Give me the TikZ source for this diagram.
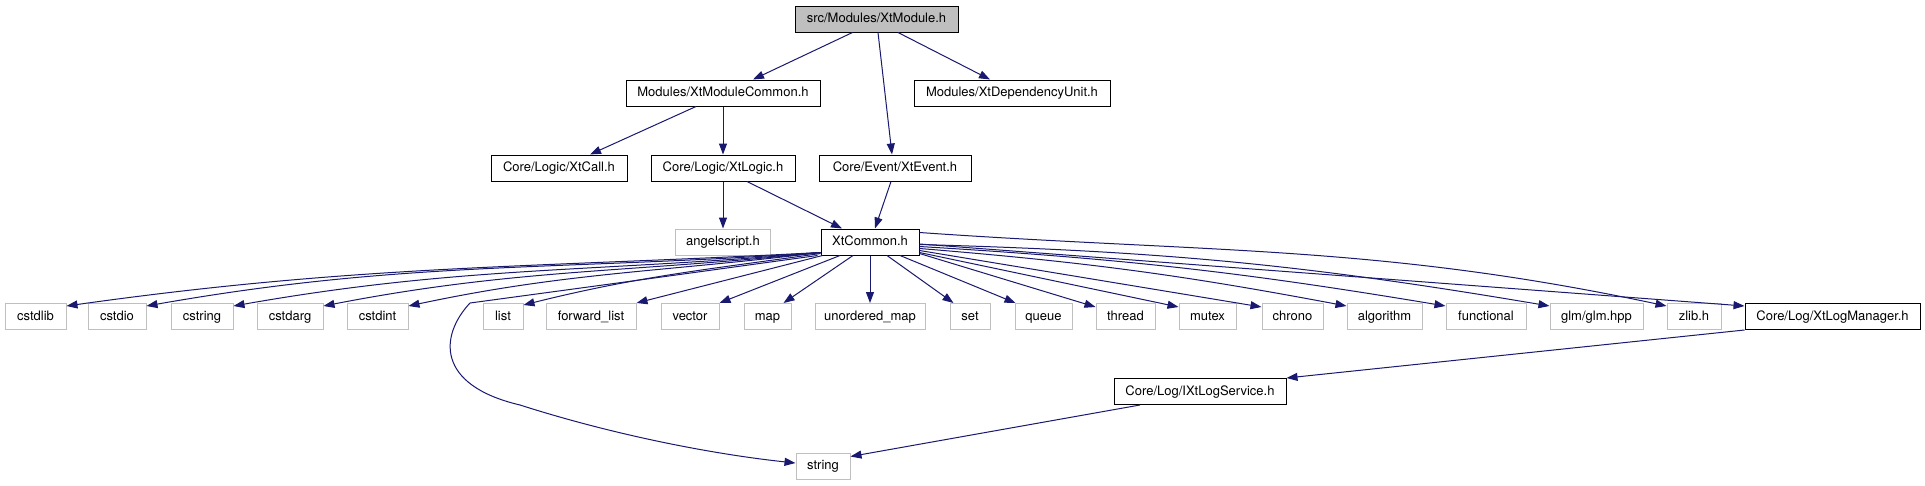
\documentclass[tikz,border=0pt]{standalone}
\usepackage{fontspec}
\setmainfont{TeX Gyre Heros}
\usetikzlibrary{arrows.meta}
\tikzset{>={Triangle[length=11pt,width=8pt]}}
\definecolor{DoxyMidnight}{HTML}{191970}
\definecolor{DoxyGrey}{HTML}{BFBFBF}
\colorlet{EdgeLine}{DoxyMidnight}
\colorlet{ExtLine}{DoxyGrey}
\colorlet{RootFill}{DoxyGrey}
\tikzset{
  FileBox/.style={draw=black, line width=1pt, fill=white, inner sep=0pt,
      minimum height=26pt, text height=9.5pt, text depth=2.5pt,
      font=\fontsize{13}{15}\selectfont},
  RootBox/.style={FileBox, fill=RootFill},
  ExtBox/.style={FileBox, draw=ExtLine},
  IncEdge/.style={EdgeLine, line width=1pt, ->}
}

\begin{document}
\begin{tikzpicture}[x=1pt, y=1pt]
  \fill[white] (0,0) rectangle (1925,-485);
  \useasboundingbox (0,0) rectangle (1925,-485);

  % project headers
  \node[RootBox, minimum width=163] (XtModule) at (876.5,-19) {src/Modules/XtModule.h};
  \node[FileBox, minimum width=194] (ModCommon) at (723,-93) {Modules/XtModuleCommon.h};
  \node[FileBox, minimum width=196] (DepUnit) at (1012,-93) {Modules/XtDependencyUnit.h};
  \node[FileBox, minimum width=136] (XtCall) at (559,-168) {Core/Logic/XtCall.h};
  \node[FileBox, minimum width=144] (XtLogic) at (723,-168) {Core/Logic/XtLogic.h};
  \node[FileBox, minimum width=152] (XtEvent) at (895,-168) {Core/Event/XtEvent.h};
  \node[ExtBox, minimum width=95] (Angel) at (723,-242) {angelscript.h};
  \node[FileBox, minimum width=98] (XtCommon) at (870,-242) {XtCommon.h};

  % system headers
  \node[ExtBox, minimum width=61] (Cstdlib) at (35.5,-316.5) {cstdlib};
  \node[ExtBox, minimum width=58] (Cstdio) at (117,-316.5) {cstdio};
  \node[ExtBox, minimum width=62] (Cstring) at (202,-316.5) {cstring};
  \node[ExtBox, minimum width=66] (Cstdarg) at (290,-316.5) {cstdarg};
  \node[ExtBox, minimum width=61] (Cstdint) at (377.5,-316.5) {cstdint};
  \node[ExtBox, minimum width=40] (List) at (503,-316.5) {list};
  \node[ExtBox, minimum width=90] (FwdList) at (591,-316.5) {forward\_list};
  \node[ExtBox, minimum width=58] (Vector) at (690,-316.5) {vector};
  \node[ExtBox, minimum width=47] (Map) at (767.5,-316.5) {map};
  \node[ExtBox, minimum width=110] (UnordMap) at (870,-316.5) {unordered\_map};
  \node[ExtBox, minimum width=40] (Set) at (970,-316.5) {set};
  \node[ExtBox, minimum width=57] (Queue) at (1043.5,-316.5) {queue};
  \node[ExtBox, minimum width=59] (Thread) at (1125.5,-316.5) {thread};
  \node[ExtBox, minimum width=57] (Mutex) at (1207.5,-316.5) {mutex};
  \node[ExtBox, minimum width=61] (Chrono) at (1292.5,-316.5) {chrono};
  \node[ExtBox, minimum width=75] (Algorithm) at (1384.5,-316.5) {algorithm};
  \node[ExtBox, minimum width=80] (Functional) at (1486,-316.5) {functional};
  \node[ExtBox, minimum width=93] (Glm) at (1596.5,-316.5) {glm/glm.hpp};
  \node[ExtBox, minimum width=54] (Zlib) at (1694,-316.5) {zlib.h};
  \node[FileBox, minimum width=175] (LogMgr) at (1832.5,-316.5) {Core/Log/XtLogManager.h};
  \node[FileBox, minimum width=172] (LogSvc) at (1200,-391.5) {Core/Log/IXtLogService.h};
  \node[ExtBox, minimum width=54] (String) at (823,-466) {string};

  % upper part
  \draw[IncEdge] ([xshift=-24pt]XtModule.south) -- ([xshift=30pt]ModCommon.north);
  \draw[IncEdge] ([xshift=1.5pt]XtModule.south) -- ([xshift=-3pt]XtEvent.north);
  \draw[IncEdge] ([xshift=21.5pt]XtModule.south) -- ([xshift=-22pt]DepUnit.north);
  \draw[IncEdge] ([xshift=-27pt]ModCommon.south) -- ([xshift=31pt]XtCall.north);
  \draw[IncEdge] (ModCommon.south) -- (XtLogic.north);
  \draw[IncEdge] (XtLogic.south) -- (Angel.north);
  \draw[IncEdge] ([xshift=24pt]XtLogic.south) -- ([xshift=-28pt]XtCommon.north);
  \draw[IncEdge] ([xshift=-4pt]XtEvent.south) -- ([xshift=5pt]XtCommon.north);

  % XtCommon.h, left side
  \draw[IncEdge] ([yshift=3pt]XtCommon.south west) to[out=183, in=8] ([yshift=-3pt]Cstdlib.north east);
  \draw[IncEdge] ([yshift=3pt]XtCommon.south west) to[out=184, in=10] ([yshift=-3pt]Cstdio.north east);
  \draw[IncEdge] ([yshift=3pt]XtCommon.south west) to[out=185, in=10] ([yshift=-3pt]Cstring.north east);
  \draw[IncEdge] ([yshift=3pt]XtCommon.south west) to[out=186, in=11] ([yshift=-3pt]Cstdarg.north east);
  \draw[IncEdge] ([yshift=3pt]XtCommon.south west) to[out=187, in=12] ([yshift=-3pt]Cstdint.north east);
  \draw[IncEdge] ([yshift=2pt]XtCommon.south west) to[out=188, in=14] ([yshift=-2pt]List.north east);
  \draw[IncEdge] ([xshift=2pt]XtCommon.south west) -- (FwdList.north east);
  \draw[IncEdge] ([xshift=-30pt]XtCommon.south) -- (Vector.north east);
  \draw[IncEdge] ([xshift=-17pt]XtCommon.south) -- ([xshift=-8pt]Map.north east);
  \draw[IncEdge] (XtCommon.south) -- (UnordMap.north);
  \draw[IncEdge] ([xshift=-3pt]XtCommon.south west) .. controls (640,-280) .. (470,-303)
      .. controls (440,-335) and (435,-385) .. (520,-405)
      .. controls (620,-437) and (720,-455) .. ([yshift=3pt]String.west);

  % XtCommon.h, right side
  \draw[IncEdge] ([xshift=17pt]XtCommon.south) -- ([xshift=4pt]Set.north west);
  \draw[IncEdge] ([xshift=30pt]XtCommon.south) -- ([xshift=1pt]Queue.north west);
  \draw[IncEdge] ([yshift=2pt]XtCommon.south east) -- ([yshift=-4pt]Thread.north west);
  \draw[IncEdge] ([yshift=3pt]XtCommon.south east) -- ([yshift=-4pt]Mutex.north west);
  \draw[IncEdge] ([yshift=5pt]XtCommon.south east) -- ([yshift=-4pt]Chrono.north west);
  \draw[IncEdge] ([yshift=7pt]XtCommon.south east) to[bend left=3] ([yshift=-3pt]Algorithm.north west);
  \draw[IncEdge] ([yshift=9pt]XtCommon.south east) to[bend left=3] ([yshift=-3pt]Functional.north west);
  \draw[IncEdge] ([yshift=11pt]XtCommon.south east) to[bend left=4] ([yshift=-3pt]Glm.north west);
  \draw[IncEdge] ([yshift=-4pt]XtCommon.north east) to[out=-4, in=168] ([yshift=-3pt]Zlib.north west);
  \draw[IncEdge] ([yshift=-2pt]XtCommon.east) -- ([yshift=-3pt]LogMgr.north west);

  % logging
  \draw[IncEdge] (LogMgr.south west) -- (LogSvc.north east);
  \draw[IncEdge] ([xshift=-60pt]LogSvc.south) -- ([yshift=-4pt]String.north east);
\end{tikzpicture}
\end{document}
